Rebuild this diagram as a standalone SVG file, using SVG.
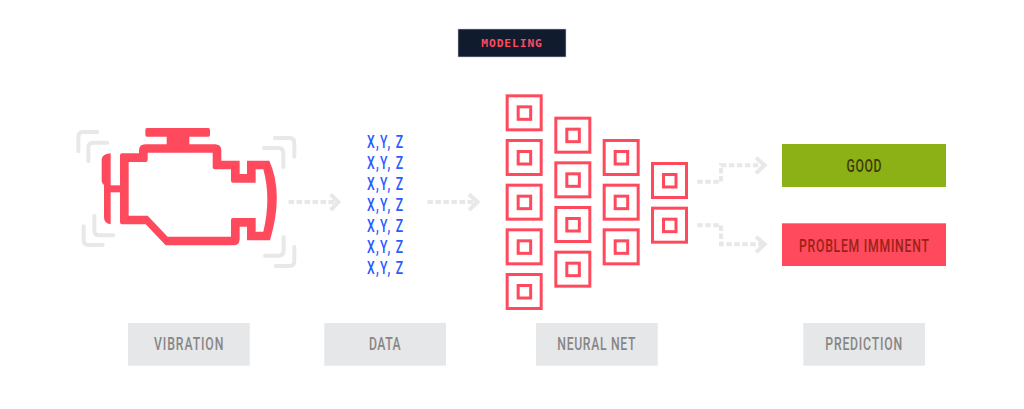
<svg xmlns="http://www.w3.org/2000/svg" xmlns:xlink="http://www.w3.org/1999/xlink" width="1024" height="409" viewBox="0 0 1024 409">
<style>
.bg{fill:#fff}
.lbl{fill:#e6e7e8}
.t{font-family:"Roboto","Liberation Sans",sans-serif;font-size:18px;font-weight:500}
.lt{fill:#868686}
.xyz{fill:#2b5bff}
.dash{fill:none;stroke:#e8e8e8;stroke-width:4;stroke-dasharray:5.5 2.5}
.chev{fill:none;stroke:#e8e8e8;stroke-width:4}
.br{fill:none;stroke:#e8e8e8;stroke-width:12;stroke-linecap:round}
.sq{fill:none;stroke:#ff4a5e;stroke-width:3}
.red{fill:#ff4a5e}
</style>
<defs>
<g id="cell"><rect class="sq" x="1.5" y="1.5" width="34" height="34"/><rect class="sq" x="12.5" y="12.5" width="12.5" height="12.5"/></g>
</defs>
<rect class="bg" width="1024" height="409"/>
<g id="modeling">
<rect x="458" y="29" width="108" height="28" fill="#111b2e" stroke="#c9ccd0" stroke-width=".6"/>
<text x="481.3" y="46.6" textLength="60.6" lengthAdjust="spacing" font-family="'DejaVu Sans Mono','Liberation Mono',monospace" font-size="11.3" font-weight="700" fill="#ff4a5e">MODELING</text>
</g>
<g id="engine" transform="translate(60 110) scale(.33333)">
<g class="brackets">
<path class="br" d="M112 66H70Q55 66 55 81V124"/>
<path class="br" d="M142 98H100Q85 98 85 113V154"/>
<path class="br" d="M103 318V360Q103 376 118 376H160"/>
<path class="br" d="M71 349V390Q71 405 86 405H128"/>
<path class="br" d="M612 114H655Q670 114 670 130V171"/>
<path class="br" d="M645 84H688Q703 84 703 100V140"/>
<path class="br" d="M671 381V421Q671 437 655 437H615"/>
<path class="br" d="M703 411V452Q703 468 688 468H647"/>
</g>
<rect class="red" x="256" y="54" width="194" height="26" rx="5"/>
<rect class="red" x="320" y="78" width="68" height="30"/>
<path class="red" fill-rule="evenodd" d="M186 130H237V122Q237 103 256 103H465Q484 103 484 122V152H539V192H561V152H628Q672 250 630 391H561V350H539V387Q539 406 520 406H317L257 343H186Q180 343 180 337V136Q180 130 186 130ZM206 156V317H263L323 380H513V330Q513 324 519 324H587V365H610Q634 265 610 178H587V218H519Q513 218 513 212V178H464Q458 178 458 172V128H263V150Q263 156 257 156Z"/>
<path class="red" d="M152 130V343Q132 340 132 322V225Q125 222 125 212V150Q125 132 152 130Z"/>
<rect class="red" x="150" y="226" width="32" height="21"/>
</g>
<g id="data">
<text class="t xyz" transform="translate(367 148.3) scale(.68 1)" textLength="53" lengthAdjust="spacing">X,Y, Z</text>
<text class="t xyz" transform="translate(367 169.2) scale(.68 1)" textLength="53" lengthAdjust="spacing">X,Y, Z</text>
<text class="t xyz" transform="translate(367 190.1) scale(.68 1)" textLength="53" lengthAdjust="spacing">X,Y, Z</text>
<text class="t xyz" transform="translate(367 211) scale(.68 1)" textLength="53" lengthAdjust="spacing">X,Y, Z</text>
<text class="t xyz" transform="translate(367 231.9) scale(.68 1)" textLength="53" lengthAdjust="spacing">X,Y, Z</text>
<text class="t xyz" transform="translate(367 252.8) scale(.68 1)" textLength="53" lengthAdjust="spacing">X,Y, Z</text>
<text class="t xyz" transform="translate(367 273.7) scale(.68 1)" textLength="53" lengthAdjust="spacing">X,Y, Z</text>
</g>
<g id="neural-net">
<use xlink:href="#cell" href="#cell" x="505.67" y="94.33"/>
<use xlink:href="#cell" href="#cell" x="505.67" y="139"/>
<use xlink:href="#cell" href="#cell" x="505.67" y="183.67"/>
<use xlink:href="#cell" href="#cell" x="505.67" y="228.33"/>
<use xlink:href="#cell" href="#cell" x="505.67" y="273"/>
<use xlink:href="#cell" href="#cell" x="554.33" y="116.67"/>
<use xlink:href="#cell" href="#cell" x="554.33" y="161.33"/>
<use xlink:href="#cell" href="#cell" x="554.33" y="206"/>
<use xlink:href="#cell" href="#cell" x="554.33" y="250.67"/>
<use xlink:href="#cell" href="#cell" x="602.67" y="139"/>
<use xlink:href="#cell" href="#cell" x="602.67" y="183.67"/>
<use xlink:href="#cell" href="#cell" x="602.67" y="228.33"/>
<use xlink:href="#cell" href="#cell" x="651" y="162"/>
<use xlink:href="#cell" href="#cell" x="651" y="206.67"/>
</g>
<g id="connectors">
<path class="dash" d="M288.5 202H336"/><path class="chev" d="M330.7 194.3L338.3 202L330.7 210"/>
<path class="dash" d="M427.5 202H476"/><path class="chev" d="M469 194.3L477.5 202L469 210"/>
<path class="dash" d="M697.3 181.7H721V165.3H762"/><path class="chev" d="M756 157.7L764.7 165.3L756 173.3"/>
<path class="dash" d="M697.3 225.3H721V244.3H762"/><path class="chev" d="M756 236.7L764.7 244.3L756 252.3"/>
</g>
<g id="good">
<rect x="782" y="144" width="164" height="43" fill="#8cb117"/>
<text class="t" transform="translate(846.5 171.7) scale(.68 1)" textLength="51.5" lengthAdjust="spacing" fill="#3e3a05">GOOD</text>
</g>
<g id="problem">
<rect x="782" y="223.3" width="164" height="42.7" fill="#ff4a5e"/>
<text class="t" transform="translate(799 251.7) scale(.68 1)" textLength="191" lengthAdjust="spacing" fill="#9c2215">PROBLEM IMMINENT</text>
</g>
<g id="label-vibration"><rect class="lbl" x="128" y="323" width="121.7" height="42.7"/><text class="t lt" transform="translate(154 349.7) scale(.68 1)" textLength="102" lengthAdjust="spacing">VIBRATION</text></g>
<g id="label-data"><rect class="lbl" x="324.3" y="323" width="121.7" height="42.7"/><text class="t lt" transform="translate(369 349.7) scale(.68 1)" textLength="46.6" lengthAdjust="spacing">DATA</text></g>
<g id="label-neural"><rect class="lbl" x="536" y="323" width="121.7" height="42.7"/><text class="t lt" transform="translate(557.3 349.7) scale(.68 1)" textLength="115" lengthAdjust="spacing">NEURAL NET</text></g>
<g id="label-prediction"><rect class="lbl" x="803.3" y="323" width="121.7" height="42.7"/><text class="t lt" transform="translate(825.3 349.7) scale(.68 1)" textLength="113" lengthAdjust="spacing">PREDICTION</text></g>
</svg>
